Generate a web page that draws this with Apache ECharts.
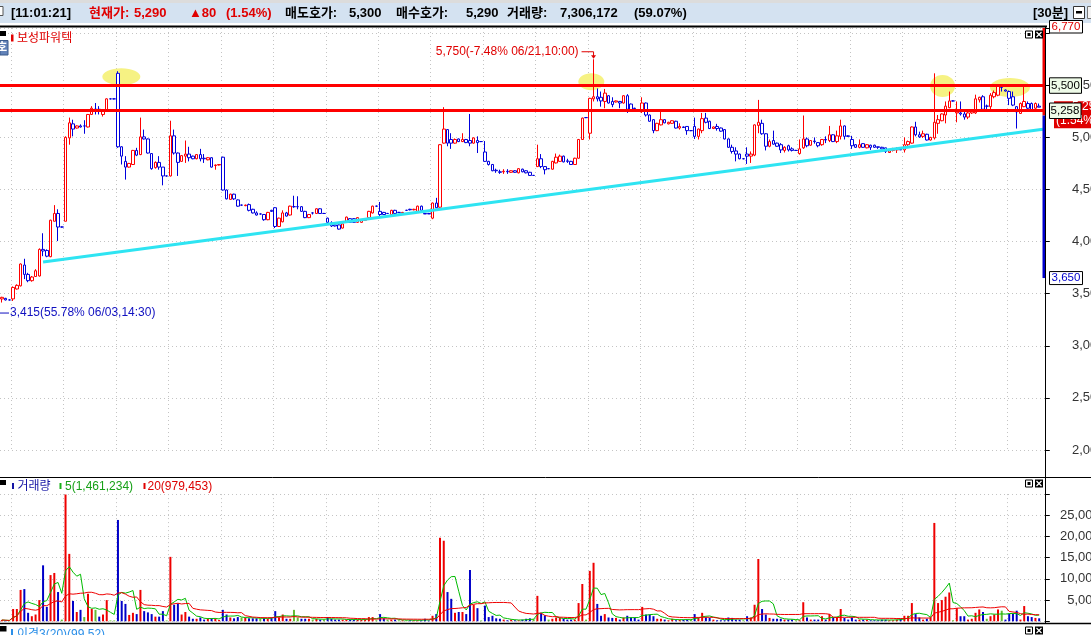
<!DOCTYPE html>
<html><head><meta charset="utf-8">
<script src="https://cdn.jsdelivr.net/npm/echarts@6/dist/echarts.min.js"></script>
<style>html,body{margin:0;padding:0;background:#fff;overflow:hidden}#c{width:1091px;height:635px}</style>
</head><body><div id="c"></div>
<script>
// ---------- data (30-minute candles, 보성파워텍) ----------
const opens = [
3450,3455,3440,3450,3545,3575,3775,3685,3625,3665, 3670,3925,3915,3855,4195,4270,4140,4195,4995,5130,
5090,5110,5110,5100,5220,5270,5270,5220,5260,5370, 5370,5615,4910,4770,4715,4740,4875,4835,5005,4985,
4845,4710,4760,4715,4630,4630,5015,4850,4770,4820, 4840,4820,4795,4835,4800,4785,4805,4730,4735,4810,
4495,4405,4455,4400,4350,4345,4355,4310,4275,4265, 4260,4210,4300,4325,4145,4190,4275,4255,4335,4335,
4335,4290,4230,4275,4270,4315,4270,4225,4180,4160, 4160,4130,4185,4220,4220,4185,4185,4205,4230,4275,
4340,4290,4280,4270,4260,4300,4280,4275,4300,4310, 4305,4290,4340,4270,4270,4225,4370,4330,4945,5075,
4980,4945,4985,4960,4980,4970,4945,4970,4960,4860, 4770,4740,4685,4670,4670,4675,4665,4680,4660,4695,
4680,4665,4635,4720,4795,4720,4700,4695,4755,4770, 4820,4775,4770,4740,4800,4980,5190,5040,5370,5390,
5385,5345,5400,5345,5340,5345,5330,5400,5320,5280, 5260,5250,5330,5215,5170,5065,5120,5170,5130,5135,
5155,5090,5100,5105,5065,5105,5010,5065,5185,5155, 5085,5105,5090,5075,4985,4905,4870,4840,4795,4840,
4820,4830,5115,5135,5035,4915,4970,4945,4930,4875, 4920,4890,4875,4845,4900,4985,4925,4965,4950,4930,
4980,4970,5025,4960,5010,5110,5015,4980,4930,4905, 4940,4900,4925,4925,4910,4905,4900,4855,4875,4880,
4885,4880,4930,4945,5100,5025,5010,5030,4975,4995, 5135,5160,5215,5285,5350,5235,5235,5225,5195,5235,
5235,5360,5390,5300,5295,5390,5405,5480,5455,5440, 5390,5295,5230,5295,5325,5325,5280,5300];
const highs = [
3470,3460,3445,3570,3590,3790,3835,3700,3670,3735, 3935,4080,3925,4210,4350,4310,4145,5010,5190,5170,
5115,5125,5165,5225,5300,5330,5300,5270,5375,5372, 5372,5635,4915,4820,4755,4880,4900,5190,5075,4990,
4850,4770,4820,4715,4632,5160,5075,4855,4830,4970, 4910,4825,4840,4890,4840,4810,4810,4740,4740,4815,
4500,4460,4460,4405,4355,4355,4365,4315,4290,4270, 4265,4285,4305,4330,4230,4300,4285,4345,4440,4435,
4340,4295,4265,4280,4320,4320,4275,4230,4195,4165, 4165,4175,4240,4225,4225,4235,4215,4220,4295,4345,
4345,4380,4285,4275,4305,4305,4285,4285,4305,4315, 4315,4345,4345,4275,4275,4375,4420,4935,5290,5080,
5040,4990,4990,5040,4985,5225,5000,5010,4965,4965, 4775,4745,4700,4690,4695,4695,4685,4685,4705,4700,
4685,4670,4640,4930,4840,4725,4705,4775,4845,4835, 4825,4795,4775,4805,4985,5190,5195,5380,5750,5470,
5440,5465,5405,5385,5355,5350,5405,5415,5325,5285, 5265,5385,5335,5220,5175,5140,5250,5175,5150,5165,
5160,5135,5105,5105,5070,5190,5085,5235,5235,5160, 5105,5130,5095,5080,4990,4930,4905,4845,4800,4905,
4865,5125,5360,5170,5040,4980,5065,4950,4945,4915, 4930,4905,4880,4980,5210,5000,4975,5000,4955,4985,
5010,5110,5030,5065,5170,5115,5020,5015,4935,4980, 4945,4935,4930,4930,4910,4910,4900,4875,4900,4905,
4890,5000,4970,5105,5150,5055,5065,5035,5005,5615, 5215,5230,5345,5440,5355,5345,5345,5250,5250,5265,
5410,5390,5405,5315,5425,5450,5510,5500,5460,5450, 5440,5300,5335,5485,5345,5335,5335,5325];
const lows = [
3415,3435,3435,3430,3540,3570,3640,3610,3615,3660, 3665,3860,3850,3850,4195,4005,4135,4195,4930,5010,
5085,5095,5035,5095,5215,5220,5220,5200,5255,5365, 5365,4900,4740,4595,4710,4735,4820,4830,4980,4845,
4690,4700,4690,4540,4625,4625,4835,4630,4765,4755, 4770,4790,4790,4770,4755,4780,4710,4690,4730,4490,
4405,4400,4400,4335,4345,4340,4290,4270,4250,4260, 4200,4205,4285,4130,4140,4185,4240,4250,4325,4310,
4285,4225,4225,4260,4265,4265,4265,4180,4140,4145, 4115,4125,4180,4180,4180,4180,4180,4200,4225,4270,
4335,4245,4255,4265,4255,4265,4275,4270,4295,4300, 4300,4285,4295,4265,4265,4215,4320,4325,4940,4915,
4890,4940,4955,4955,4945,4915,4940,4850,4955,4765, 4730,4675,4660,4650,4650,4650,4660,4660,4655,4665,
4655,4630,4630,4715,4705,4645,4695,4690,4750,4765, 4760,4755,4735,4735,4795,4975,5185,4980,5345,5345,
5295,5280,5325,5290,5335,5280,5325,5235,5260,5270, 5250,5235,5200,5150,5040,5060,5115,5135,5125,5130,
5085,5075,5090,5025,5060,4985,4980,5040,5135,5080, 5080,5065,5055,4980,4900,4845,4770,4790,4790,4745,
4755,4820,5040,5025,4875,4905,4930,4910,4850,4855, 4865,4865,4870,4835,4890,4905,4920,4940,4905,4920,
4945,4955,4955,4945,4980,4980,5005,4890,4900,4895, 4900,4895,4880,4900,4890,4885,4850,4850,4865,4850,
4880,4855,4915,4940,5010,4995,4995,4970,4970,4980, 5035,5155,5135,5280,5345,5145,5210,5170,5175,5225,
5225,5335,5265,5265,5265,5375,5395,5440,5440,5310, 5300,5085,5225,5290,5245,5255,5270,5290];
const closes = [
3465,3440,3440,3560,3580,3785,3685,3625,3660,3720, 3925,3910,3860,4205,4270,4140,4140,5000,5140,5080,
5110,5100,5110,5220,5280,5270,5260,5265,5370,5370, 5370,4910,4820,4715,4750,4875,4830,5005,4985,4850,
4700,4760,4715,4630,4630,5015,4850,4760,4825,4840, 4805,4795,4835,4795,4795,4805,4715,4735,4740,4495,
4410,4455,4410,4340,4350,4350,4300,4275,4255,4265, 4210,4280,4290,4145,4225,4275,4245,4340,4335,4335,
4290,4230,4260,4275,4315,4270,4270,4185,4150,4150, 4120,4170,4235,4185,4185,4230,4210,4215,4290,4340,
4340,4260,4260,4270,4300,4270,4280,4280,4300,4305, 4310,4340,4300,4265,4265,4370,4325,4930,5080,4945,
4945,4980,4960,4980,4950,4945,4995,4950,4960,4770, 4740,4680,4680,4665,4675,4670,4680,4665,4700,4670,
4660,4635,4635,4795,4720,4690,4700,4770,4810,4820, 4765,4770,4740,4800,4980,5185,5190,5375,5390,5370,
5350,5425,5330,5315,5350,5330,5400,5270,5265,5275, 5255,5330,5215,5155,5065,5135,5170,5140,5145,5160,
5090,5105,5095,5065,5065,5010,5080,5180,5145,5085, 5100,5085,5060,4985,4905,4865,4840,4795,4795,4820,
4840,5120,5145,5035,4915,4960,4935,4915,4880,4905, 4880,4875,4875,4890,4985,4920,4970,4960,4920,4980,
4975,5025,4960,5015,5110,5010,5010,4920,4905,4930, 4905,4930,4905,4905,4905,4890,4865,4870,4885,4890,
4880,4930,4960,5100,5025,5005,5035,4975,5000,5145, 5170,5225,5300,5350,5350,5245,5225,5195,5235,5250,
5370,5385,5270,5300,5405,5430,5500,5480,5445,5375, 5310,5245,5325,5345,5280,5265,5325,5290];
// volume, millions of shares
const volumesM = [
0.3,0.2,0.1,2.9,2.9,7.4,7.6,2.0,1.2,1.6, 5.0,13.2,3.4,10.9,11.4,6.9,0.4,29.9,15.9,4.8,
2.2,2.7,1.0,6.5,2.9,2.7,1.1,1.6,5.0,0.2, 0.2,23.9,4.8,4.1,1.5,2.0,1.7,7.4,2.4,2.1,
1.7,1.1,1.1,2.4,0.2,15.2,3.9,4.2,1.6,2.2, 1.1,0.6,0.6,0.9,0.4,0.7,0.7,0.7,0.3,2.7,
1.6,0.9,0.7,1.0,0.9,0.9,0.7,0.7,0.7,0.7, 0.7,0.6,0.9,2.4,0.9,1.6,0.6,0.6,2.7,0.9,
0.6,0.6,0.6,0.4,0.6,0.4,0.4,1.0,0.6,0.4, 0.4,0.4,0.4,0.4,0.4,0.4,0.4,0.4,1.0,1.0,
0.25,1.7,0.7,0.4,0.4,0.4,0.25,0.25,0.25,0.25, 0.25,0.25,0.25,0.6,0.2,1.3,1.7,19.7,19.0,6.9,
5.3,2.0,2.2,2.2,1.7,12.1,3.9,3.1,0.2,3.7, 1.0,1.3,0.7,0.6,0.4,0.25,0.4,0.25,0.25,0.4,
0.6,0.7,0.5,6.0,2.0,1.4,0.4,0.6,0.9,0.8, 0.6,0.4,0.4,0.4,4.3,8.8,0.4,11.9,13.8,4.1,
1.3,1.7,0.9,0.8,0.8,0.4,0.9,1.3,0.9,0.9, 0.4,3.4,1.6,1.6,1.2,0.6,0.6,0.4,0.25,0.6,
0.25,0.4,0.4,0.4,0.4,1.7,0.9,2.0,0.9,0.8, 0.4,0.25,0.25,0.25,0.9,0.8,0.4,0.4,0.25,1.2,
0.9,3.9,14.7,2.9,1.6,0.8,0.6,0.6,0.6,0.4, 0.4,0.4,0.25,0.25,4.5,0.9,0.4,0.4,0.4,1.2,
0.4,1.7,0.9,0.9,2.9,0.8,0.4,0.9,0.4,0.4, 0.4,0.4,0.25,0.25,0.25,0.4,0.4,0.25,0.25,0.4,
0.6,1.3,1.3,4.3,1.7,0.9,0.4,0.6,0.9,23.2, 4.3,5.0,5.8,6.8,0.25,3.1,1.2,1.2,0.4,0.6,
2.0,2.8,2.2,0.6,1.2,1.6,2.8,2.5,0.4,1.8, 1.8,2.5,0.4,3.6,1.2,1.0,0.8,0.7];
// one spare slot on the right for the extended trend line
const categories = Array.from({length: opens.length + 1}, (_, i) => String(i));
const priceAxis = {min: 2000, max: 6050, step: 500};
const priceTickLabels = [2000, 2500, 3000, 3500, 4000, 4500, 5000, 5500];
const volumeAxis = {min: 0, max: 30000000, step: 5000000};
const volumeTickLabels = [5000000, 10000000, 15000000, 20000000, 25000000];
const levelLines = [5500, 5258];          // horizontal red lines
const trendIdx = [11, 278];                // cyan trend line
const trendPrice = [3805, 5078];
const highlightIdx = [31.9, 157.4, 251.2, 269.2];   // yellow highlight marks
const highlightPrice = [5583, 5535, 5493, 5479];
const highlightRx = [19, 13, 12.5, 20];
const highlightRy = [8.5, 8.5, 11, 9.5];
const limitUp = 6770, limitDown = 3650, prevClose = 5210, lastPrice = 5290;
const maxIdx = 158, maxPrice = 5750, minIdx = 0, minPrice = 3415;

// ---------- chart ----------
const FONT = '"Liberation Sans","Noto Sans CJK KR",sans-serif';
const fmt = v => String(Math.round(v)).replace(/\B(?=(\d{3})+(?!\d))/g, ',');
const dayLine = idx => idx >= 3 && (idx - 3) % 14 === 0;
const BAND = 3.75, GL = -1.455, GW = categories.length * BAND;
const PX_PER_WON = 0.10419, PX_PER_VOL = 4.24e-6;
const dotted = {color: '#c4c4c4', type: [1, 3], width: 1};
const RED = '#ff0000', BLUE = '#0000dd';

const candles = opens.map((o, i) => [o, closes[i], lows[i], highs[i]]);
const volColor = i => closes[i] > opens[i] ? '#ee0000' : (closes[i] < opens[i] ? '#0000c8' : '#66bb33');
const volumes = volumesM.map((v, i) => ({value: v * 1e6, itemStyle: {color: volColor(i)}}));
function movingAvg(n) {
  return volumesM.map((_, i) => {
    const s = Math.max(0, i - n + 1); let sum = 0;
    for (let j = s; j <= i; j++) sum += volumesM[j];
    return sum / (i - s + 1) * 1e6;
  });
}

const chart = echarts.init(document.getElementById('c'), null, {renderer: 'canvas', width: 1091, height: 635});
const option = {
  backgroundColor: '#fff',
  animation: false,
  textStyle: {fontFamily: FONT},
  grid: [
    {left: GL, top: 28, width: GW, height: (priceAxis.max - priceAxis.min) * PX_PER_WON},
    {left: GL, top: 621.3 - volumeAxis.max * PX_PER_VOL, width: GW, height: volumeAxis.max * PX_PER_VOL}
  ],
  xAxis: [0, 1].map(g => ({
    type: 'category', gridIndex: g, data: categories, boundaryGap: true,
    axisLine: {show: false}, axisTick: {show: false}, axisLabel: {show: false},
    splitLine: {show: true, interval: dayLine, lineStyle: dotted}
  })),
  yAxis: [
    {type: 'value', gridIndex: 0, position: 'right', min: priceAxis.min, max: priceAxis.max, interval: priceAxis.step,
     axisLine: {show: false}, axisTick: {show: true, length: 5, lineStyle: {color: '#000'}},
     axisLabel: {show: false}, splitLine: {show: true, lineStyle: dotted}},
    {type: 'value', gridIndex: 1, position: 'right', min: volumeAxis.min, max: volumeAxis.max, interval: volumeAxis.step,
     axisLine: {show: false}, axisTick: {show: true, length: 5, lineStyle: {color: '#000'}},
     axisLabel: {show: false}, splitLine: {show: true, lineStyle: dotted}}
  ],
  series: [
    {type: 'candlestick', name: '보성파워텍', xAxisIndex: 0, yAxisIndex: 0, data: candles, barWidth: 3, z: 2,
     itemStyle: {color: '#fff', color0: '#fff', borderColor: RED, borderColor0: BLUE, borderColorDoji: BLUE, borderWidth: 1},
     markLine: {silent: true, symbol: ['none', 'none'], label: {show: false},
       lineStyle: {color: RED, width: 3, type: 'solid'}, emphasis: {disabled: true},
       data: levelLines.map(v => ({yAxis: v}))}},
    {type: 'line', name: 'trend', xAxisIndex: 0, yAxisIndex: 0, z: 4, symbol: 'none', silent: true,
     data: trendIdx.map((k, i) => [k, trendPrice[i]]),
     lineStyle: {color: '#2ee4f2', width: 3}},
    {type: 'bar', name: '거래량', xAxisIndex: 1, yAxisIndex: 1, data: volumes, barWidth: 2},
    {type: 'line', name: 'MA5', xAxisIndex: 1, yAxisIndex: 1, data: movingAvg(5), symbol: 'none', silent: true,
     lineStyle: {color: '#00bb00', width: 1}, z: 3},
    {type: 'line', name: 'MA20', xAxisIndex: 1, yAxisIndex: 1, data: movingAvg(20), symbol: 'none', silent: true,
     lineStyle: {color: '#ee0000', width: 1}, z: 3}
  ]
};
chart.setOption(option);

// ---------- overlay (positions through the chart's own scales) ----------
const yP = p => chart.convertToPixel({yAxisIndex: 0}, p);
const yV = v => chart.convertToPixel({yAxisIndex: 1}, v);
const xI = k => chart.convertToPixel({xAxisIndex: 0}, k);
const xK = k => { const a = Math.floor(k), b = a + 1, xa = xI(a), xb = xI(b); return xa + (k - a) * (xb - xa); };

function T(x, y, s, color, size, weight, align, z) {
  return {type: 'text', x, y, z: z || 100, silent: true,
    style: {text: s, fill: color, font: `${weight || 'normal'} ${size}px ${FONT}`,
      textAlign: align || 'left', textVerticalAlign: 'middle', align: align || 'left', verticalAlign: 'middle'}};
}
function R(x, y, w, h, fill, stroke, lw, z) {
  return {type: 'rect', z: z || 100, silent: true, shape: {x, y, width: w, height: h},
    style: {fill: fill || 'none', stroke: stroke || 'none', lineWidth: lw || 1}};
}
function L(x1, y1, x2, y2, stroke, lw, z) {
  return {type: 'line', z: z || 100, silent: true, shape: {x1, y1, x2, y2}, style: {stroke, lineWidth: lw || 1}};
}
function icons(x, y) {
  return [R(x + 0.5, y + 0.5, 7, 7, '#fff', '#000', 1), R(x + 2.5, y + 2.5, 3, 3, '#000'),
    R(x + 10, y, 8, 8, '#000'), L(x + 11.5, y + 1.5, x + 16.5, y + 6.5, '#fff', 1.2), L(x + 16.5, y + 1.5, x + 11.5, y + 6.5, '#fff', 1.2)];
}
const g = [];
// header bar
g.push(R(0, 0, 1091, 3, '#dcdcdc', null, 1, 90));
g.push(R(0, 3, 1091, 20, '#d4e2f1', null, 1, 90));
g.push(R(-3, 6.5, 6, 9, '#fff', '#555', 1));
g.push(T(11, 13, '[11:01:21]', '#000', 13, 'bold'));
g.push(T(89, 13, '현재가:', '#e00000', 13, 'bold'));
g.push(T(134, 13, '5,290', '#e00000', 13, 'bold'));
g.push(T(189, 13, '▲80', '#e00000', 13, 'bold'));
g.push(T(226, 13, '(1.54%)', '#e00000', 13, 'bold'));
g.push(T(285, 13, '매도호가:', '#000', 13, 'bold'));
g.push(T(349, 13, '5,300', '#000', 13, 'bold'));
g.push(T(396, 13, '매수호가:', '#000', 13, 'bold'));
g.push(T(466, 13, '5,290', '#000', 13, 'bold'));
g.push(T(507, 13, '거래량:', '#000', 13, 'bold'));
g.push(T(560, 13, '7,306,172', '#000', 13, 'bold'));
g.push(T(634, 13, '(59.07%)', '#000', 13, 'bold'));
g.push(T(1033, 13, '[30분]', '#000', 13, 'bold'));
g.push(R(1073.5, 6.5, 11, 12, '#fff', '#333', 1), R(1076, 11, 6, 2.5, '#000'), R(1087.5, 6.5, 10, 12, '#f4f4f4', '#777', 1));
// pane frames
g.push(L(0, 26.5, 1047, 26.5, '#000', 2));
g.push(L(0, 477.5, 1091, 477.5, '#000', 1));
g.push(L(0, 623.5, 1091, 623.5, '#000', 1.5));
g.push(L(1045.5, 27, 1045.5, 623, '#000', 1));
g.push(...icons(1025, 30.5), ...icons(1025, 479.5), ...icons(1025, 626.5));
// axis tick labels (clipped by the window edge, as in the original)
priceTickLabels.forEach(v => g.push(T(1072, yP(v), fmt(v), '#333', 13, 'normal', 'left', 20)));
volumeTickLabels.forEach(v => g.push(T(1125, yV(v), fmt(v), '#333', 13, 'normal', 'right', 20)));
// price pane title
g.push(R(0, 31, 6, 5, '#000'));
g.push(R(0, 40.5, 8, 14.5, '#6282b8', '#3a5a8c', 1));
g.push(T(-3, 48, '호', '#fff', 11, 'bold'));
g.push(R(11, 34.5, 2.5, 7, '#e00000'));
g.push(T(17, 38.5, '보성파워텍', '#e00000', 12));
// yellow highlights (under the candles)
highlightIdx.forEach((k, i) => g.push({type: 'ellipse', z: 1, silent: true,
  shape: {cx: xK(k), cy: yP(highlightPrice[i]), rx: highlightRx[i], ry: highlightRy[i]}, style: {fill: '#f6f283'}}));
// limit bar on the axis
const yPrev = yP(prevClose), yDn = yP(limitDown), yLast = yP(lastPrice);
g.push(R(1042.5, 28, 3, yPrev - 28, '#ee0000', null, 1, 60));
g.push(R(1042.5, yPrev, 3, yDn - yPrev, '#0000cc', null, 1, 60));
// axis boxes
g.push(R(1049.5, 20.5, 33, 12.5, '#fff', '#000', 1), T(1066, 27, fmt(limitUp), '#e00000', 11.5, 'normal', 'center', 101));
const y55 = yP(levelLines[0]), y52 = yP(levelLines[1]);
g.push(R(1049.5, y55 - 7.5, 32, 15.5, '#eefbe8', '#000', 1, 102), T(1065.5, y55 + 0.5, fmt(levelLines[0]), '#000', 11.5, 'normal', 'center', 103));
g.push(R(1054, yLast - 6, 37, 27, '#e00000', null, 1, 100));
g.push(T(1072, yLast, fmt(lastPrice), '#fff', 12, 'normal', 'left', 101));
g.push(T(1056, yLast + 14, '(1.54%)', '#fff', 12, 'normal', 'left', 101));
g.push(R(1049.5, y52 - 7.5, 31.5, 15.5, '#eefbe8', '#000', 1, 104), T(1065, y52 + 0.5, fmt(levelLines[1]), '#000', 11.5, 'normal', 'center', 105));
g.push(R(1049.5, yDn - 6.5, 33, 13, '#fff', '#000', 1), T(1066, yDn, fmt(limitDown), '#0000cc', 11.5, 'normal', 'center', 101));
// max / min annotations
const xMax = xI(maxIdx), yMax = yP(maxPrice);
g.push(T(xMax - 15, yMax - 8, '5,750(-7.48% 06/21,10:00)', '#e00000', 12, 'normal', 'right'));
g.push({type: 'polyline', z: 100, silent: true, shape: {points: [[xMax - 12, yMax - 7.5], [xMax, yMax - 7.5], [xMax, yMax - 3]]}, style: {stroke: '#e00000', lineWidth: 1, fill: 'none'}});
g.push({type: 'polygon', z: 100, silent: true, shape: {points: [[xMax - 2.5, yMax - 4], [xMax + 2.5, yMax - 4], [xMax, yMax - 0.5]]}, style: {fill: '#e00000'}});
const yMin = yP(minPrice) + 10.5;
g.push(L(0, yMin, 9, yMin, '#1010c0', 1));
g.push(T(10, yMin, '3,415(55.78% 06/03,14:30)', '#1010c0', 12));
// volume pane legend
g.push(R(0, 480, 6, 5, '#000'));
g.push(R(12, 483, 2, 6, '#1515a5'), T(17.5, 486.5, '거래량', '#1515a5', 12));
g.push(R(59.5, 483, 2, 6, '#16b016'), T(65, 486.5, '5(1,461,234)', '#16a016', 12));
g.push(R(143.5, 483, 2, 6, '#e00000'), T(147.5, 486.5, '20(979,453)', '#dd0000', 12));
// bottom pane title
g.push(R(0, 626, 6.5, 5.5, '#000'));
g.push(R(11, 629, 2, 6, '#2b8fe8'), T(17, 634.5, '이격3(20)(99.52)', '#2b8fe8', 12));

chart.setOption({graphic: {elements: g}});
</script>
</body></html>
